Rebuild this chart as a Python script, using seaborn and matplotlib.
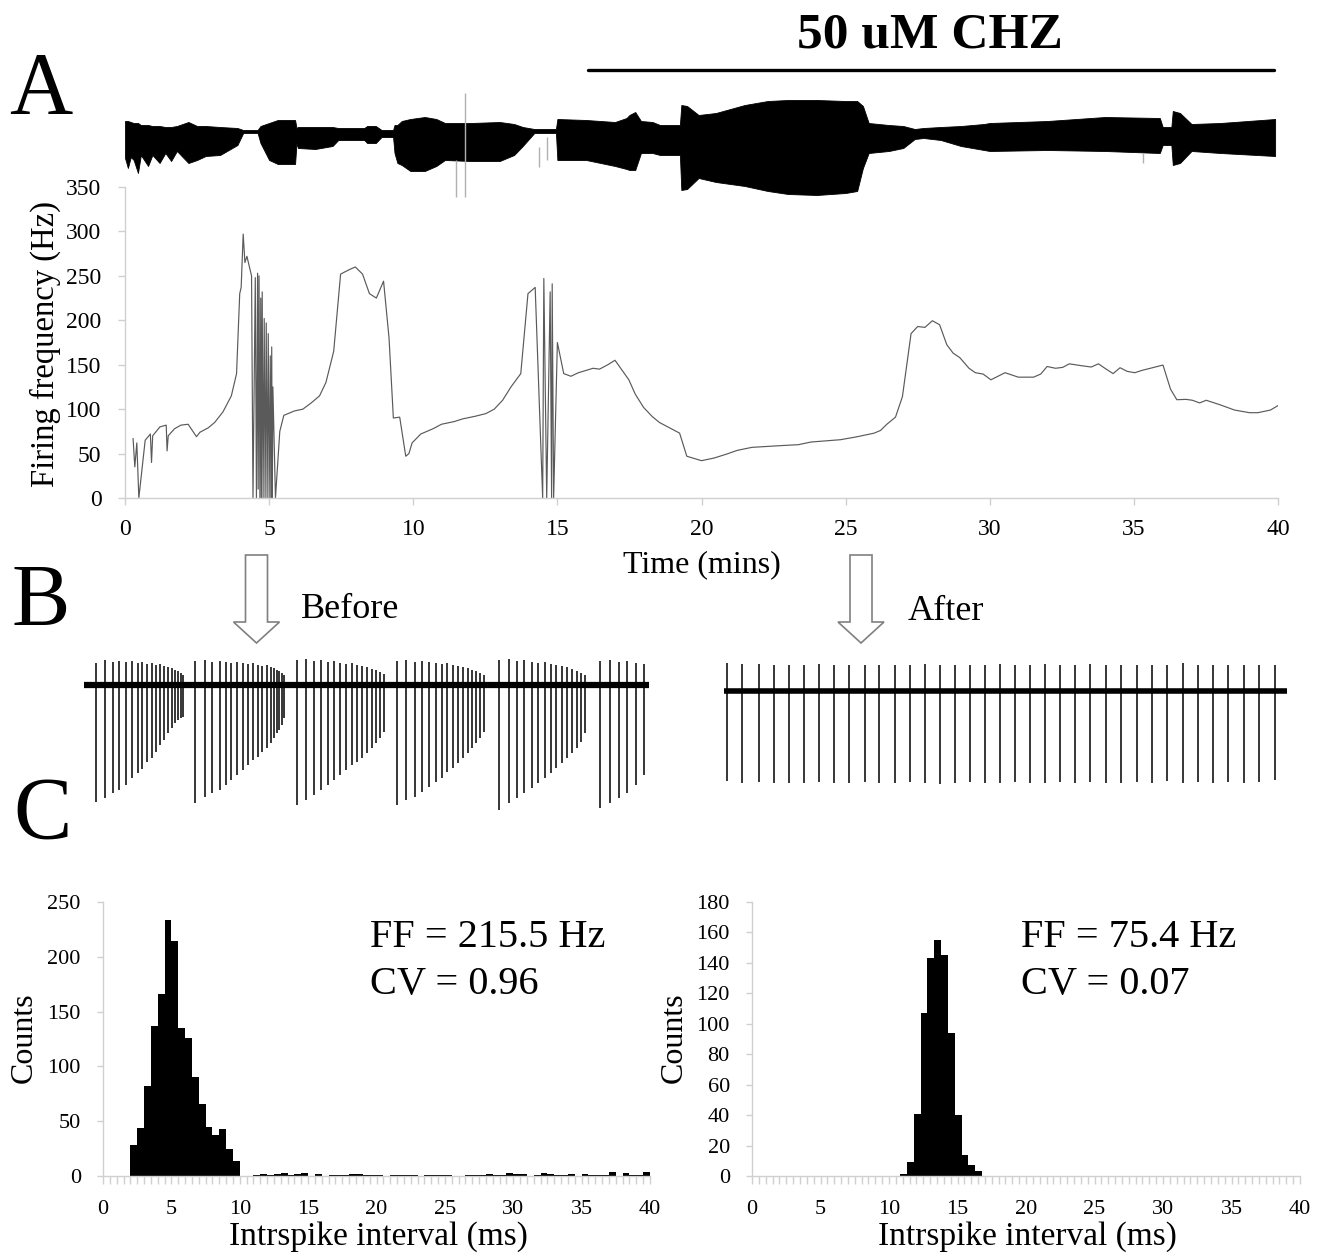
import matplotlib
matplotlib.use("Agg")
import matplotlib.pyplot as plt
from matplotlib.lines import Line2D
from matplotlib.patches import FancyArrow
from matplotlib.ticker import MultipleLocator
import numpy as np
import pandas as pd
import seaborn as sns

# ---------------- panel A: firing frequency (Hz) vs time (mins) ----------------
freq_time = [
    0.28, 0.34, 0.41, 0.48, 0.70, 0.88, 0.92, 0.96, 1.21, 1.43, 1.46, 1.50, 1.72, 1.94,
    2.19, 2.48, 2.60, 2.89, 3.11, 3.40, 3.69, 3.87, 3.98, 4.03, 4.10, 4.16, 4.23, 4.39,
    4.44, 4.52, 4.56, 4.60, 4.62, 4.65, 4.68, 4.71, 4.73, 4.76, 4.79, 4.83, 4.86, 4.90,
    4.93, 4.97, 5.00, 5.04, 5.06, 5.09, 5.11, 5.13, 5.22, 5.37, 5.51, 5.88, 6.17, 6.46,
    6.75, 6.97, 7.24, 7.48, 7.78, 7.99, 8.24, 8.48, 8.72, 8.97, 9.16, 9.31, 9.53, 9.74,
    9.85, 9.96, 10.26, 10.69, 10.98, 11.42, 11.71, 12.15, 12.52, 12.81, 13.10, 13.39,
    13.73, 13.98, 14.23, 14.49, 14.53, 14.63, 14.75, 14.80, 14.82, 14.87, 15.00, 15.22,
    15.47, 15.73, 16.24, 16.46, 16.75, 17.00, 17.26, 17.48, 17.70, 17.99, 18.28, 18.54,
    19.24, 19.49, 20.00, 20.44, 20.88, 21.24, 21.75, 22.78, 23.36, 23.80, 24.82, 25.41,
    25.99, 26.21, 26.43, 26.73, 26.97, 27.27, 27.50, 27.75, 28.01, 28.26, 28.51, 28.73,
    28.96, 29.28, 29.50, 29.77, 30.04, 30.53, 30.99, 31.52, 31.77, 31.99, 32.28, 32.53,
    32.76, 33.16, 33.52, 33.77, 34.04, 34.28, 34.52, 34.77, 35.03, 35.28, 36.01, 36.27,
    36.49, 36.81, 37.03, 37.28, 37.51, 37.98, 38.49, 39.01, 39.30, 39.74, 40.00,
]
freq_hz = [
    67, 35, 62, 0, 65, 72, 40, 70, 80, 82, 53, 70, 78, 82,
    83, 69, 74, 79, 85, 97, 115, 140, 230, 237, 297, 265, 272, 250,
    0, 248, 0, 253, 10, 250, 0, 225, 0, 232, 0, 202, 0, 197,
    0, 185, 0, 160, 0, 170, 0, 125, 0, 75, 93, 98, 100, 107,
    115, 130, 165, 252, 257, 260, 252, 230, 225, 244, 180, 90, 91, 47,
    50, 62, 72, 78, 83, 86, 89, 92, 95, 100, 110, 125,
    140, 230, 237, 0, 247, 0, 232, 0, 241, 0, 175, 140,
    137, 141, 146, 145, 150, 155, 143, 133, 117, 102, 92, 85,
    73, 47, 42, 45, 49.5, 53.6, 57, 59, 60, 63, 65.6, 69,
    73, 76, 83, 91, 114, 185, 193, 192, 199.5, 195, 172.5, 163,
    158, 146, 141, 139.5, 133, 141, 136, 136, 139.5, 148, 146, 147,
    151, 149, 147.4, 151, 145, 140, 146.6, 142.5, 141, 143.6, 149.6, 122.6,
    110.6, 111, 110, 107, 110, 105, 99, 96, 96, 99, 104,
]

# raw extracellular recording, drawn as its envelope (arbitrary units)
env_time = [
    0.0, 0.1, 0.2, 0.3, 0.45, 0.55, 0.8, 0.95, 1.2, 1.4, 1.6, 1.8, 2.2, 2.5, 2.8, 3.3,
    3.9, 4.1, 4.6, 4.7, 5.0, 5.3, 5.9, 5.95, 6.0, 6.6, 7.2, 7.4, 8.3, 8.4, 8.7, 8.9,
    9.3, 9.35, 9.45, 9.6, 9.9, 10.4, 10.8, 11.1, 12.0, 13.0, 13.5, 13.8, 14.2, 14.95,
    15.0, 16.0, 17.0, 17.4, 17.5, 17.7, 17.9, 18.3, 18.56, 19.25, 19.3, 19.5, 19.9, 20.5,
    21.5, 22.3, 23.0, 24.0, 25.0, 25.4, 25.6, 25.8, 26.5, 27.0, 27.4, 27.7, 28.3, 29.0,
    29.8, 30.0, 32.0, 34.0, 35.9, 36.0, 36.3, 36.35, 36.6, 37.0, 38.0, 39.9,
]
env_upper = [
    22, 22, 21, 20, 20, 18, 18, 17, 17, 16, 16, 17, 21, 17, 17, 16,
    15, 13, 13, 17, 20, 23, 23, 15, 16, 16, 16, 15, 15, 17, 17, 13,
    13, 18, 18, 22, 24, 26, 24, 20, 20, 21, 19, 16, 14, 14,
    24, 23, 21, 25, 28, 31, 22, 21, 18, 18, 38, 37, 28, 30,
    38, 42, 43, 43, 42, 42, 37, 20, 18, 17, 14, 15, 16, 17,
    19, 20, 22, 26, 25, 16, 16, 32, 30, 19, 20, 24,
]
env_lower = [
    -15, -25, -14, -17, -30, -12, -23, -12, -20, -10, -18, -8, -20, -17, -13, -12,
    -2, 10, 10, 0, -17, -21, -21, 0, -5, -6, -3, 3, 3, 0, 0, 6,
    6, -10, -20, -22, -28, -28, -23, -17, -18, -18, -12, -3, 10, 10,
    -17, -17, -23, -26, -27, -27, -10, -10, -12, -12, -47, -46, -35, -39,
    -43, -48, -51, -52, -50, -48, -25, -10, -8, -5, 4, 5, 3, -3,
    -7, -8, -7, -8, -10, -2, -2, -22, -20, -8, -10, -13,
]
artifact_time = [11.47, 11.8, 14.35, 14.64, 35.3]
artifact_lower = [-54, -54, -24, -17, -20]
artifact_upper = [-17, 50, -4, 6, -10]

# ---------------- panel B: example traces (spike times in ms) ----------------
before_spike_ms = [
    12.4, 21.2, 28.8, 35.3, 41.8, 48.0, 53.7, 58.3, 63.3, 67.8, 72.4, 76.3, 80.1, 83.9,
    87.7, 90.8, 93.9, 96.6, 98.5,
    110.7, 120.7, 128.3, 135.6, 141.7, 147.4, 153.2, 158.9, 164.3, 169.3, 173.9, 178.1,
    182.7, 186.5, 189.5, 192.6, 195.3, 198.0, 199.9,
    212.5, 222.1, 229.7, 237.4, 243.9, 250.0, 256.1, 262.3, 267.6, 273.0, 278.3, 282.9,
    287.5, 292.1, 296.0, 299.8,
    312.8, 322.3, 330.8, 338.4, 345.3, 351.8, 357.6, 363.3, 369.0, 374.0, 379.0, 383.6,
    388.2, 392.4, 396.2, 399.6,
    415.3, 424.5, 432.6, 440.2, 447.5, 454.4, 460.5, 466.6, 472.4, 477.7, 483.1, 488.1,
    492.6, 496.9, 501.1,
    516.4, 525.9, 534.7, 543.2, 552.0, 560.4,
]
before_spike_down = [
    117, 113, 108, 105, 100, 93, 88, 84, 77, 73, 67, 60, 55, 48, 43, 38, 35, 33, 32,
    118, 112, 108, 105, 100, 95, 90, 85, 80, 75, 72, 67, 63, 58, 53, 48, 45, 40, 33,
    120, 115, 110, 105, 100, 95, 90, 85, 80, 77, 73, 68, 63, 58, 53, 47,
    120, 115, 112, 107, 102, 97, 93, 87, 83, 78, 73, 68, 63, 58, 53, 47,
    125, 118, 113, 108, 103, 98, 93, 88, 83, 78, 73, 68, 63, 57, 48,
    123, 118, 113, 108, 100, 90,
]
before_spike_up = [
    22, 25, 23, 24, 23, 24, 22, 23, 21, 22, 20, 21, 19, 18, 17, 15, 14, 12, 10,
    24, 25, 23, 24, 23, 22, 23, 22, 21, 22, 20, 19, 20, 18, 17, 15, 14, 12, 10,
    25, 26, 24, 25, 23, 24, 22, 21, 22, 20, 19, 18, 16, 15, 13, 11,
    24, 25, 23, 24, 23, 22, 21, 22, 20, 19, 18, 17, 15, 14, 12, 10,
    25, 26, 24, 25, 23, 22, 23, 21, 20, 19, 18, 16, 14, 12, 10,
    24, 25, 23, 24, 22, 21,
]
before_length_ms = 565

after_spike_ms = [
    2.5, 18.0, 35.1, 49.9, 64.7, 79.5, 95.1, 110.2, 125.0, 140.6, 155.4, 170.6, 186.1,
    200.9, 216.1, 231.3, 246.4, 261.2, 276.4, 291.2, 306.0, 320.7, 335.9, 351.1, 366.3,
    381.8, 397.0, 412.6, 427.8, 442.9, 458.5, 473.7, 488.8, 504.0, 519.6, 535.1, 550.7,
]
after_spike_down = [
    90, 92, 91, 92, 92, 92, 91, 92, 92, 91, 92, 92, 91, 92, 93, 92, 91, 92, 92,
    91, 92, 92, 91, 92, 91, 92, 92, 91, 92, 90, 92, 91, 92, 91, 92, 91, 89,
]
after_spike_up = [
    28, 27, 27, 26, 26, 26, 27, 26, 26, 26, 26, 26, 26, 27, 26, 26, 26, 26, 27,
    26, 26, 27, 26, 26, 27, 26, 26, 26, 26, 26, 28, 26, 26, 26, 26, 26, 26,
]
after_length_ms = 563

# ---------------- panel C: interspike interval histograms (0.5 ms bins) ----------------
isi_before_start = 2.0
isi_before_counts = [
    28, 44, 82, 137, 166, 234, 214, 135, 126, 90, 66, 45, 37, 43, 25, 14, 0, 0,
    1, 2, 1, 2, 3, 1, 2, 3, 0, 2, 0, 1, 1, 1, 2, 2, 1, 1, 1, 0,
    1, 1, 1, 1, 0, 1, 1, 1, 1, 0, 0, 1, 1, 1, 2, 1, 1, 3, 2, 2,
    0, 1, 3, 2, 1, 1, 2, 0, 2, 1, 1, 1, 4, 0, 3, 1, 1, 4,
]
isi_after_start = 10.8
isi_after_counts = [1, 9, 41, 107, 143, 155, 145, 94, 40, 14, 7, 3]
bin_width = 0.5

W, H = 1320, 1256
sns.set_theme(style="white")
plt.rcParams["font.family"] = ["Liberation Serif", "DejaVu Serif"]
plt.rcParams["text.color"] = "black"
plt.rcParams["xtick.color"] = "black"
plt.rcParams["ytick.color"] = "black"

fig = plt.figure(figsize=(W / 100, H / 100), dpi=100)


def box(left, top, right, bottom):
    return [left / W, 1 - bottom / H, (right - left) / W, (bottom - top) / H]


def fx(x):
    return x / W


def fy(y):
    return 1 - y / H


axis_grey = "#d0d0d0"

# --- firing frequency ---
ax_f = fig.add_axes(box(125, 187, 1278, 498))
ax_f.patch.set_alpha(0)
sns.lineplot(x=freq_time, y=freq_hz, ax=ax_f, color="#5a5a5a", linewidth=0.85,
             estimator=None, sort=False)
ax_f.set_xlim(0, 40)
ax_f.set_ylim(0, 350)
ax_f.set_xticks(range(0, 41, 5))
ax_f.set_yticks(range(0, 351, 50))
for side in ["top", "right"]:
    ax_f.spines[side].set_visible(False)
for side in ["left", "bottom"]:
    ax_f.spines[side].set_color(axis_grey)
    ax_f.spines[side].set_linewidth(1)
ax_f.tick_params(axis="both", direction="out", length=5, width=1, color=axis_grey,
                 labelsize=17, labelcolor="black", left=True, bottom=True)
ax_f.tick_params(axis="y", pad=12)
ax_f.tick_params(axis="x", pad=10)
ax_f.set_xlabel("")
ax_f.set_ylabel("")

# --- raw recording envelope (drawn over the top of the frequency axes) ---
ax_raw = fig.add_axes(box(125, 90, 1278, 200))
ax_raw.patch.set_alpha(0)
ax_raw.fill_between(env_time, env_lower, env_upper, color="black", linewidth=0.6)
ax_raw.vlines(artifact_time, artifact_lower, artifact_upper, color="#b0b0b0", linewidth=1)
ax_raw.set_xlim(0, 40)
ax_raw.set_ylim(-57, 53)
ax_raw.axis("off")

fig.text(fx(45), fy(344), "Firing frequency (Hz)", rotation=90, ha="center", va="center",
         fontsize=23.5)
fig.text(fx(702), fy(572), "Time (mins)", ha="center", va="baseline", fontsize=23)

# drug application bar
fig.add_artist(Line2D([fx(588), fx(1274)], [fy(70), fy(70)], color="black", linewidth=2.4))
fig.text(fx(930), fy(48), "50 uM CHZ", ha="center", va="baseline", fontsize=37,
         fontweight="bold")

# panel letters
fig.text(fx(9), fy(113), "A", fontsize=63, va="baseline", ha="left")
fig.text(fx(12), fy(625), "B", fontsize=63, va="baseline", ha="left")
fig.text(fx(13), fy(838), "C", fontsize=63, va="baseline", ha="left")

# --- arrows and labels for panel B ---
for cx in (256.5, 861):
    fig.add_artist(FancyArrow(fx(cx), fy(555), 0, fy(643) - fy(555), width=22 / W,
                              head_width=46 / W, head_length=21 / H,
                              length_includes_head=True, facecolor="white",
                              edgecolor="#808080", linewidth=1.2,
                              transform=fig.transFigure))
fig.text(fx(301), fy(618), "Before", fontsize=26, va="baseline", ha="left")
fig.text(fx(908), fy(620), "After", fontsize=26, va="baseline", ha="left")

# --- example traces ---
ax_b = fig.add_axes(box(84, 650, 649, 812))
ax_b.hlines(0, 0, before_length_ms, color="black", linewidth=4.5)
ax_b.vlines(before_spike_ms, [-d for d in before_spike_down], before_spike_up,
            color="black", linewidth=1.1)
ax_b.set_xlim(0, before_length_ms)
ax_b.set_ylim(-127, 35)
ax_b.axis("off")

ax_a = fig.add_axes(box(724, 650, 1287, 812))
ax_a.hlines(0, 0, after_length_ms, color="black", linewidth=4.0)
ax_a.vlines(after_spike_ms, [-d for d in after_spike_down], after_spike_up,
            color="black", linewidth=1.1)
ax_a.set_xlim(0, after_length_ms)
ax_a.set_ylim(-121, 41)
ax_a.axis("off")


# --- ISI histograms ---
def isi_hist(ax, start, counts, ymax, ystep):
    n = len(counts)
    df = pd.DataFrame({"isi": start + bin_width * (np.arange(n) + 0.5),
                       "count": counts})
    sns.histplot(data=df, x="isi", weights="count", bins=n,
                 binrange=(start, start + bin_width * n), ax=ax, color="black",
                 edgecolor="black", linewidth=0, alpha=1)
    ax.set_xlim(0, 40)
    ax.set_ylim(0, ymax)
    ax.set_xticks(range(0, 41, 5))
    ax.set_yticks(range(0, ymax + 1, ystep))
    ax.xaxis.set_minor_locator(MultipleLocator(0.5))
    for side in ["top", "right"]:
        ax.spines[side].set_visible(False)
    for side in ["left", "bottom"]:
        ax.spines[side].set_color(axis_grey)
        ax.spines[side].set_linewidth(1)
    ax.tick_params(axis="x", which="both", direction="out", length=6, width=1,
                   color=axis_grey, labelsize=16, labelcolor="black", pad=11, bottom=True)
    ax.tick_params(axis="y", direction="out", length=4, width=1, color=axis_grey,
                   labelsize=16, labelcolor="black", pad=12, left=True)
    ax.set_xlabel("")
    ax.set_ylabel("")


ax_h1 = fig.add_axes(box(103, 902, 650, 1176))
isi_hist(ax_h1, isi_before_start, isi_before_counts, 250, 50)
ax_h2 = fig.add_axes(box(752, 902, 1300, 1176))
isi_hist(ax_h2, isi_after_start, isi_after_counts, 180, 20)

fig.text(fx(24), fy(1038), "Counts", rotation=90, ha="center", va="center", fontsize=23)
fig.text(fx(674), fy(1038), "Counts", rotation=90, ha="center", va="center", fontsize=23)
fig.text(fx(378), fy(1245), "Intrspike interval (ms)", ha="center", va="baseline", fontsize=24)
fig.text(fx(1027), fy(1245), "Intrspike interval (ms)", ha="center", va="baseline", fontsize=24)

fig.text(fx(370), fy(947), "FF = 215.5 Hz", fontsize=29, va="baseline", ha="left")
fig.text(fx(370), fy(994), "CV = 0.96", fontsize=29, va="baseline", ha="left")
fig.text(fx(1021), fy(947), "FF = 75.4 Hz", fontsize=29, va="baseline", ha="left")
fig.text(fx(1021), fy(994), "CV = 0.07", fontsize=29, va="baseline", ha="left")

fig.savefig("out.png", dpi=100, facecolor="white")
plt.close(fig)
